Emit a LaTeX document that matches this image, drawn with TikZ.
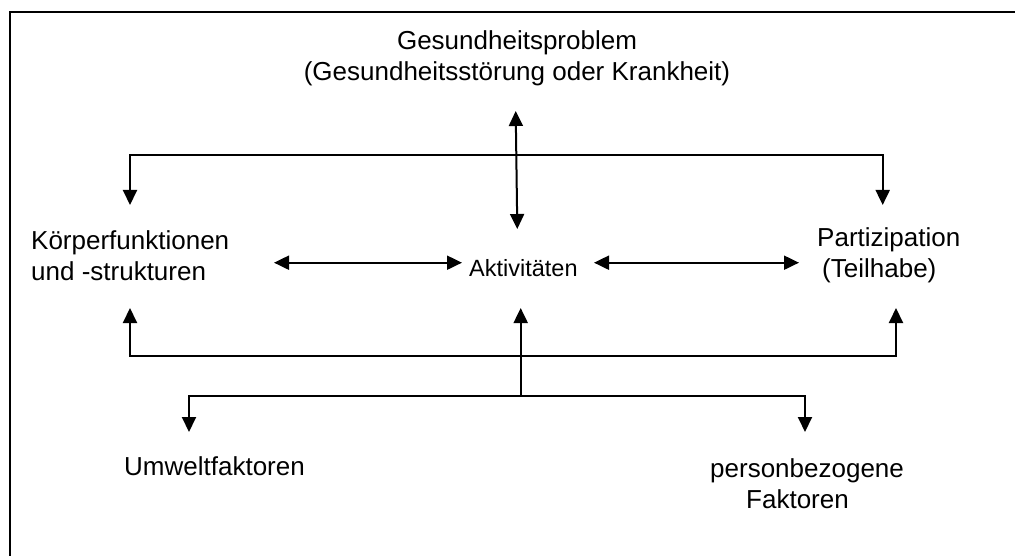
\documentclass[tikz,border=0pt]{standalone}
\usepackage{fontspec}
\setmainfont{Liberation Sans}
\usetikzlibrary{arrows.meta}
\begin{document}
\begin{tikzpicture}[x=1pt,y=-1pt,
  lbl/.style={inner sep=0pt,font=\fontsize{26}{31}\selectfont},
  small/.style={inner sep=0pt,font=\fontsize{23.5}{28}\selectfont},
  conn/.style={line width=2pt,-{Triangle[length=15pt,width=14pt]}},
  dconn/.style={line width=2pt,{Triangle[length=15pt,width=14pt]}-{Triangle[length=15pt,width=14pt]}},
  frame/.style={line width=2.2pt}]
\useasboundingbox (0,0) rectangle (1015,556);
\fill[white] (0,0) rectangle (1015,556);
% frame (only left and top edges visible)
\coordinate (fb) at (10,557);
\coordinate (ftl) at (10,12);
\coordinate (ftr) at (1016,12);
\draw[frame] (fb) -- (ftl) -- (ftr);
% labels
\node[lbl,anchor=north,align=center] (ges) at (517,30) {Gesundheitsproblem\\(Gesundheitsstörung oder Krankheit)};
\node[lbl,anchor=north west,align=left] (koerper) at (31,230) {Körperfunktionen\\und -strukturen};
\node[small,anchor=north west] (aktiv) at (469,259) {Aktivitäten};
\node[lbl,anchor=north west,align=left] (parti) at (817,227) {Partizipation\\\hspace*{5pt}(Teilhabe)};
\node[lbl,anchor=north west] (umwelt) at (124,456) {Umweltfaktoren};
\node[lbl,anchor=north west,align=left] (person) at (710,458) {personbezogene\\\hspace*{36pt}Faktoren};
% connector coordinates
\coordinate (vtop) at (515.7,111);
\coordinate (vbot) at (517.3,229);
\coordinate (kt) at (130,205);
\coordinate (pt) at (882.7,205);
\coordinate (kb) at (130,308);
\coordinate (pb) at (896,308);
\coordinate (ha1) at (274,262.7);
\coordinate (ha2) at (462,262.7);
\coordinate (hb1) at (594,262.7);
\coordinate (hb2) at (799,262.7);
\coordinate (atip) at (520.7,308);
\coordinate (abase) at (520.7,396);
\coordinate (ut) at (189,432);
\coordinate (pft) at (805,432);
% connectors
\draw[dconn] (vtop) -- (vbot);
\draw[dconn] (kt) |- (517,155.5) -| (pt);
\draw[dconn] (ha1) -- (ha2);
\draw[dconn] (hb1) -- (hb2);
\draw[dconn] (kb) |- (520.7,356) -| (pb);
\draw[conn] (abase) -- (atip);
\draw[dconn] (ut) |- (abase) -| (pft);
\end{tikzpicture}
\end{document}
